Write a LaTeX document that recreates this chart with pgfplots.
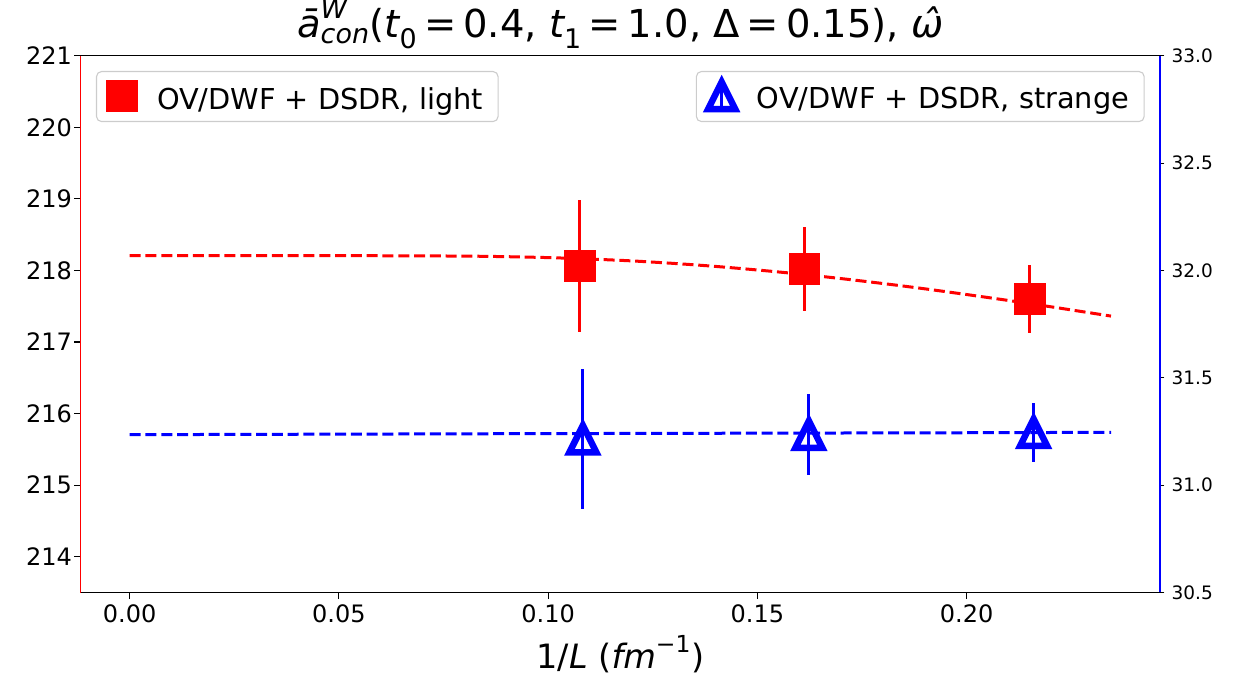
\documentclass[border=0pt]{standalone}
\usepackage{amsmath}
\usepackage{fontspec}
\setmainfont{DejaVu Sans}
\usepackage{pgfplots}
\pgfplotsset{compat=1.18}

% matplotlib-style triangle: width = height = 2 * mark size
\pgfdeclareplotmark{mpltri}{%
  \pgfpathmoveto{\pgfqpoint{0pt}{\pgfplotmarksize}}%
  \pgfpathlineto{\pgfqpoint{-\pgfplotmarksize}{-\pgfplotmarksize}}%
  \pgfpathlineto{\pgfqpoint{\pgfplotmarksize}{-\pgfplotmarksize}}%
  \pgfpathclose
  \pgfusepathqstroke
}

\newcommand\mi[1]{\text{\itshape #1}}
\newcommand\fsz[1]{\fontsize{#1}{#1}\selectfont}
\newcommand\omegahat{{\itshape\ooalign{ω\cr\hidewidth\kern0.12em ˆ\hidewidth\cr}}}

% light quarks: 1/L, value, error
\pgfplotstableread{
x       y       ey
0.1075  218.06  0.925
0.1612  218.02  0.587
0.2150  217.605 0.475
}\lightdata
% strange quarks (right axis)
\pgfplotstableread{
x       y       ey
0.1083  31.215  0.328
0.1623  31.236  0.190
0.2160  31.246  0.138
}\strangedata

\pgfplotsset{
  mpl legend/.style={
    draw=black!20, line width=1.1pt, rounded corners=5pt, fill=white,
    inner xsep=6pt, inner ysep=9pt, column sep=0pt, font=\fsz{28.8},
    nodes={inner sep=0pt}},
}

\begin{document}
\begin{tikzpicture}
\begin{axis}[
  at={(0pt,0pt)}, anchor=south west,
  scale only axis, width=1079.3pt, height=536.8pt,
  xmin=-0.0117, xmax=0.2462, ymin=213.5, ymax=221,
  separate axis lines,
  axis x line*=bottom, axis y line*=left,
  x axis line style={black, line width=1.1pt, -},
  y axis line style={red, line width=1.1pt, -},
  xtick={0,0.05,0.1,0.15,0.2},
  ytick={214,215,216,217,218,219,220,221},
  tick align=outside, major tick length=6.5pt,
  tick style={black, line width=1.1pt},
  /pgf/number format/assume math mode=true,
  x tick label style={font=\fsz{24}, inner sep=0pt, anchor=north, yshift=-5pt,
    /pgf/number format/fixed, /pgf/number format/fixed zerofill,
    /pgf/number format/precision=2},
  y tick label style={font=\fsz{24}, inner sep=0pt, anchor=east, xshift=-2pt},
  title={$\mi{\=a}^{\mi{W}}_{\mi{con}}\text{(}\mi{t}_{\text{0}}\mathrel{\text{=}}\text{0.4,\ }\mi{t}_{\text{1}}\mathrel{\text{=}}\text{1.0,\ }\text{Δ}\mathrel{\text{=}}\text{0.15}\text{)}$, \omegahat},
  title style={at={(axis description cs:0.5,1)}, anchor=base, yshift=12.5pt,
    inner sep=0pt, font=\fsz{38.5}},
  xlabel={$\text{1/}\mi{L}\ \text{(}\mi{fm}^{\text{−1}}\text{)}$},
  xlabel style={at={(axis description cs:0.5,0)}, anchor=base, yshift=-75.5pt,
    inner sep=0pt, font=\fsz{33.5}},
  legend style={mpl legend, at={(axis description cs:0,1)}, anchor=north west,
    xshift=15.3pt, yshift=-15.3pt},
  legend cell align=left,
]
% finite-volume fit, light
\addplot[red, line width=3pt, dash pattern=on 11pt off 4.8pt, smooth, forget plot]
  coordinates {
  (0,218.206) (0.04,218.206) (0.06,218.205) (0.08,218.200) (0.09,218.192)
  (0.10,218.179) (0.11,218.159) (0.12,218.133) (0.13,218.098) (0.14,218.056)
  (0.15,218.006) (0.16,217.950) (0.17,217.886) (0.18,217.817) (0.19,217.743)
  (0.20,217.663) (0.21,217.580) (0.22,217.493) (0.2345,217.362)
  };
\addplot[red, only marks, mark=square*, mark size=15.4pt,
  mark options={line width=0.5pt, solid, fill=red}, forget plot,
  error bars/.cd, y dir=both, y explicit, error mark=none,
  error bar style={line width=2.8pt, red, solid}]
  table[x=x, y=y, y error=ey] {\lightdata};
\addlegendimage{legend image code/.code={
  \path[draw=none, fill=none] (0pt,-13.5pt) (54.5pt,18.5pt);
  \draw[overlay, sharp corners, red, fill=red, line width=0.5pt, mark=square*,
    mark size=15.4pt, only marks] plot coordinates {(19.3pt,3.5pt)};}}
\addlegendentry{OV/DWF + DSDR, light\kern9pt}
\end{axis}

\begin{axis}[
  at={(0pt,0pt)}, anchor=south west,
  scale only axis, width=1079.3pt, height=536.8pt,
  xmin=-0.0117, xmax=0.2462, ymin=30.5, ymax=33.0,
  separate axis lines,
  axis x line*=top, axis y line*=right,
  x axis line style={black, line width=1.1pt, -},
  y axis line style={blue, line width=1.1pt, -},
  xtick=\empty,
  ytick={30.5,31,31.5,32,32.5,33},
  tick align=outside, major tick length=4.5pt,
  tick style={black, line width=1.1pt},
  /pgf/number format/assume math mode=true,
  y tick label style={font=\fsz{18.5}, inner sep=0pt, anchor=west, xshift=7pt,
    /pgf/number format/fixed, /pgf/number format/fixed zerofill,
    /pgf/number format/precision=1},
  legend style={mpl legend, at={(axis description cs:1,1)}, anchor=north east,
    xshift=-15.3pt, yshift=-15.3pt},
  legend cell align=left,
]
% finite-volume fit, strange
\addplot[blue, line width=3pt, dash pattern=on 11pt off 4.8pt, forget plot]
  coordinates {(0,31.235) (0.10,31.240) (0.20,31.244) (0.2345,31.246)};
\addplot[blue, only marks, mark=mpltri, mark size=13.5pt,
  mark options={line width=6.5pt, solid}, forget plot,
  error bars/.cd, y dir=both, y explicit, error mark=none,
  error bar style={line width=2.8pt, blue, solid}]
  table[x=x, y=y, y error=ey] {\strangedata};
\addlegendimage{legend image code/.code={
  \path[draw=none, fill=none] (0pt,-13.5pt) (54.5pt,18.5pt);
  \draw[overlay, sharp corners, blue, line width=2.8pt] (19.3pt,-10.5pt) -- (19.3pt,17.5pt);
  \draw[overlay, sharp corners, blue, line width=6.5pt, mark=mpltri,
    mark size=13.5pt, only marks] plot coordinates {(19.3pt,3.5pt)};}}
\addlegendentry{OV/DWF + DSDR, strange\kern9pt}
\end{axis}
\pgfresetboundingbox
\useasboundingbox (-80.7pt,-82.5pt) rectangle (1154.3pt,592.5pt);
\end{tikzpicture}
\end{document}
